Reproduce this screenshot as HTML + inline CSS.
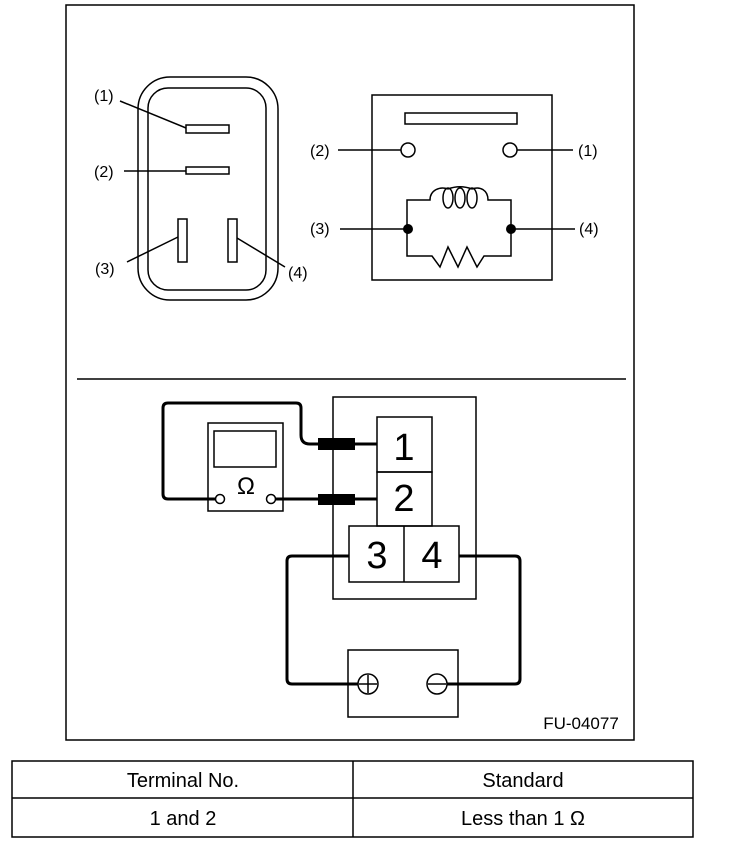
<!DOCTYPE html>
<html><head><meta charset="utf-8"><style>
html,body{margin:0;padding:0;background:#fff;}
svg{display:block;}
text{font-family:"Liberation Sans",sans-serif;fill:#000;}
</style></head><body>
<svg width="736" height="852" viewBox="0 0 736 852" xmlns="http://www.w3.org/2000/svg">
<g fill="none" stroke="#000" stroke-width="1.5">
<rect x="66" y="5" width="568" height="735"/>
<line x1="77" y1="379" x2="626" y2="379"/>
<!-- connector -->
<rect x="138" y="77" width="140" height="223" rx="32"/>
<rect x="148" y="88" width="118" height="202" rx="20"/>
<rect x="186" y="125" width="43" height="8"/>
<rect x="186" y="167" width="43" height="7"/>
<rect x="178" y="219" width="9" height="43"/>
<rect x="228" y="219" width="9" height="43"/>
<line x1="120" y1="101" x2="186" y2="128"/>
<line x1="124" y1="171" x2="186" y2="171"/>
<line x1="127" y1="262" x2="178" y2="237"/>
<line x1="237" y1="238" x2="285" y2="267"/>
<!-- schematic -->
<rect x="372" y="95" width="180" height="185"/>
<rect x="405" y="113" width="112" height="11"/>
<circle cx="408" cy="150" r="7"/>
<circle cx="510" cy="150" r="7"/>
<line x1="338" y1="150" x2="401" y2="150"/>
<line x1="517" y1="150" x2="573" y2="150"/>
<path d="M340 229 H407 V200 H430 C430 190 440 186 448 189"/>
<path d="M472 189 C480 186 488 190 488 200 H511 V229 H575"/>
<path d="M448 189 C456 186 464 186 472 189"/>
<ellipse cx="448" cy="198" rx="5" ry="10"/>
<ellipse cx="460" cy="198" rx="5" ry="10"/>
<ellipse cx="472" cy="198" rx="5" ry="10"/>
<path d="M407 229 V256 H432 L440 267 L448 247 L458 267 L467 247 L477 267 L484 256 H511 V229"/>
</g>
<circle cx="408" cy="229" r="5"/>
<circle cx="511" cy="229" r="5"/>
<g font-size="16">
<text x="94" y="101">(1)</text>
<text x="94" y="177">(2)</text>
<text x="95" y="274">(3)</text>
<text x="288" y="278">(4)</text>
<text x="310" y="156">(2)</text>
<text x="578" y="156">(1)</text>
<text x="310" y="234">(3)</text>
<text x="579" y="234">(4)</text>
</g>
<!-- bottom -->
<g fill="none" stroke="#000" stroke-width="1.5">
<rect x="333" y="397" width="143" height="202"/>
<rect x="377" y="417" width="55" height="55"/>
<rect x="377" y="472" width="55" height="54"/>
<rect x="349" y="526" width="110" height="56"/>
<line x1="404" y1="526" x2="404" y2="582"/>
<rect x="208" y="423" width="75" height="88"/>
<rect x="214" y="431" width="62" height="36"/>
<circle cx="220" cy="499" r="4.5"/>
<circle cx="271" cy="499" r="4.5"/>
<rect x="348" y="650" width="110" height="67"/>
<circle cx="368" cy="684" r="10"/>
<line x1="368" y1="675" x2="368" y2="693"/>
<line x1="359" y1="684" x2="377" y2="684"/>
<circle cx="437" cy="684" r="10"/>
<line x1="428" y1="684" x2="446" y2="684"/>
</g>
<g fill="none" stroke="#000" stroke-width="3" stroke-linejoin="round">
<path d="M215 499 H168 Q163 499 163 494 V408 Q163 403 168 403 H296 Q301 403 301 408 V435 Q301 444 310 444 H377"/>
<path d="M276 499 H377"/>
<path d="M349 556 H292 Q287 556 287 561 V679 Q287 684 292 684 H358"/>
<path d="M459 556 H515 Q520 556 520 561 V679 Q520 684 515 684 H447"/>
</g>
<rect x="318" y="438" width="37" height="12"/>
<rect x="318" y="494" width="37" height="11"/>
<text x="246" y="494" font-size="24" text-anchor="middle">Ω</text>
<g font-size="38" text-anchor="middle">
<text x="404" y="460">1</text>
<text x="404" y="511">2</text>
<text x="377" y="568">3</text>
<text x="432" y="568">4</text>
</g>
<text x="581" y="729" font-size="17" text-anchor="middle">FU-04077</text>
<!-- table -->
<g fill="none" stroke="#000" stroke-width="1.5">
<rect x="12" y="761" width="681" height="76"/>
<line x1="12" y1="798" x2="693" y2="798"/>
<line x1="353" y1="761" x2="353" y2="837"/>
</g>
<g font-size="20" text-anchor="middle">
<text x="183" y="787">Terminal No.</text>
<text x="523" y="787">Standard</text>
<text x="183" y="825">1 and 2</text>
<text x="523" y="825">Less than 1 Ω</text>
</g>
</svg>
</body></html>
